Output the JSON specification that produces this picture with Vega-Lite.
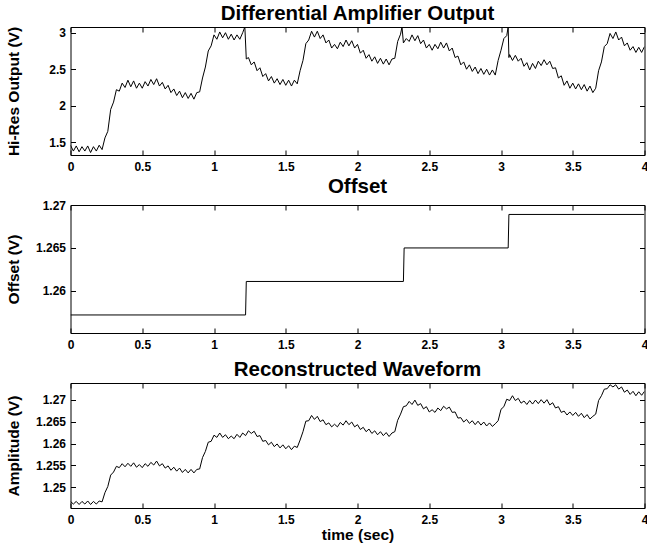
{
"$schema": "https://vega.github.io/schema/vega-lite/v6.json",
"padding": {"left": 5.5, "top": 3, "right": 0, "bottom": 0},
"spacing": 50,
"bounds": "flush",
"datasets": {
"hires": [
{"t":0,"v":1.46},{"t":0.02,"v":1.38},{"t":0.04,"v":1.45},{"t":0.06,"v":1.37},{"t":0.08,"v":1.44},{"t":0.1,"v":1.38},{"t":0.12,"v":1.45},{"t":0.14,"v":1.36},{"t":0.16,"v":1.44},{"t":0.18,"v":1.38},
{"t":0.2,"v":1.46},{"t":0.22,"v":1.40},{"t":0.24,"v":1.56},{"t":0.26,"v":1.65},{"t":0.28,"v":1.95},{"t":0.3,"v":2.05},{"t":0.32,"v":2.22},{"t":0.34,"v":2.20},{"t":0.36,"v":2.31},{"t":0.38,"v":2.25},
{"t":0.4,"v":2.35},{"t":0.42,"v":2.26},{"t":0.44,"v":2.34},{"t":0.46,"v":2.24},{"t":0.48,"v":2.31},{"t":0.5,"v":2.24},{"t":0.52,"v":2.33},{"t":0.54,"v":2.27},{"t":0.56,"v":2.36},{"t":0.58,"v":2.29},
{"t":0.6,"v":2.37},{"t":0.62,"v":2.27},{"t":0.64,"v":2.32},{"t":0.66,"v":2.23},{"t":0.68,"v":2.28},{"t":0.7,"v":2.18},{"t":0.72,"v":2.23},{"t":0.74,"v":2.14},{"t":0.76,"v":2.2},{"t":0.78,"v":2.11},
{"t":0.8,"v":2.18},{"t":0.82,"v":2.1},{"t":0.84,"v":2.17},{"t":0.86,"v":2.09},{"t":0.88,"v":2.18},{"t":0.9,"v":2.19},{"t":0.92,"v":2.38},{"t":0.94,"v":2.53},{"t":0.96,"v":2.75},{"t":0.98,"v":2.82},
{"t":1,"v":2.97},{"t":1.02,"v":2.91},{"t":1.04,"v":3.01},{"t":1.06,"v":2.93},{"t":1.08,"v":3.0},{"t":1.1,"v":2.91},{"t":1.12,"v":2.98},{"t":1.14,"v":2.9},{"t":1.16,"v":2.97},{"t":1.18,"v":2.91},
{"t":1.2,"v":3.0},{"t":1.215,"v":3.08},{"t":1.225,"v":2.64},{"t":1.24,"v":2.66},{"t":1.26,"v":2.56},{"t":1.28,"v":2.6},{"t":1.3,"v":2.48},{"t":1.32,"v":2.52},{"t":1.34,"v":2.4},{"t":1.36,"v":2.44},
{"t":1.38,"v":2.34},{"t":1.4,"v":2.4},{"t":1.42,"v":2.31},{"t":1.44,"v":2.37},{"t":1.46,"v":2.29},{"t":1.48,"v":2.36},{"t":1.5,"v":2.28},{"t":1.52,"v":2.35},{"t":1.54,"v":2.27},{"t":1.56,"v":2.35},
{"t":1.58,"v":2.3},{"t":1.6,"v":2.48},{"t":1.62,"v":2.62},{"t":1.64,"v":2.85},{"t":1.66,"v":2.9},{"t":1.68,"v":3.02},{"t":1.7,"v":2.94},{"t":1.72,"v":3.02},{"t":1.74,"v":2.92},{"t":1.76,"v":2.97},
{"t":1.78,"v":2.86},{"t":1.8,"v":2.9},{"t":1.82,"v":2.79},{"t":1.84,"v":2.84},{"t":1.86,"v":2.78},{"t":1.88,"v":2.87},{"t":1.9,"v":2.81},{"t":1.92,"v":2.9},{"t":1.94,"v":2.82},{"t":1.96,"v":2.89},
{"t":1.98,"v":2.79},{"t":2,"v":2.84},{"t":2.02,"v":2.72},{"t":2.04,"v":2.76},{"t":2.06,"v":2.65},{"t":2.08,"v":2.7},{"t":2.1,"v":2.61},{"t":2.12,"v":2.67},{"t":2.14,"v":2.58},{"t":2.16,"v":2.65},
{"t":2.18,"v":2.57},{"t":2.2,"v":2.64},{"t":2.22,"v":2.56},{"t":2.24,"v":2.64},{"t":2.26,"v":2.65},{"t":2.28,"v":2.88},{"t":2.3,"v":2.98},{"t":2.31,"v":3.08},{"t":2.32,"v":2.86},{"t":2.34,"v":2.92},
{"t":2.36,"v":2.88},{"t":2.38,"v":2.97},{"t":2.4,"v":2.89},{"t":2.42,"v":2.96},{"t":2.44,"v":2.85},{"t":2.46,"v":2.9},{"t":2.48,"v":2.79},{"t":2.5,"v":2.84},{"t":2.52,"v":2.76},{"t":2.54,"v":2.84},
{"t":2.56,"v":2.78},{"t":2.58,"v":2.87},{"t":2.6,"v":2.79},{"t":2.62,"v":2.86},{"t":2.64,"v":2.75},{"t":2.66,"v":2.79},{"t":2.68,"v":2.66},{"t":2.7,"v":2.68},{"t":2.72,"v":2.56},{"t":2.74,"v":2.6},
{"t":2.76,"v":2.5},{"t":2.78,"v":2.56},{"t":2.8,"v":2.47},{"t":2.82,"v":2.53},{"t":2.84,"v":2.44},{"t":2.86,"v":2.51},{"t":2.88,"v":2.43},{"t":2.9,"v":2.5},{"t":2.92,"v":2.42},{"t":2.94,"v":2.49},
{"t":2.96,"v":2.42},{"t":2.98,"v":2.62},{"t":3,"v":2.76},{"t":3.02,"v":2.92},{"t":3.04,"v":2.96},{"t":3.05,"v":3.08},{"t":3.055,"v":2.66},{"t":3.06,"v":2.7},{"t":3.08,"v":2.62},{"t":3.1,"v":2.69},
{"t":3.12,"v":2.61},{"t":3.14,"v":2.65},{"t":3.16,"v":2.54},{"t":3.18,"v":2.59},{"t":3.2,"v":2.49},{"t":3.22,"v":2.58},{"t":3.24,"v":2.51},{"t":3.26,"v":2.61},{"t":3.28,"v":2.55},{"t":3.3,"v":2.63},
{"t":3.32,"v":2.56},{"t":3.34,"v":2.61},{"t":3.36,"v":2.51},{"t":3.38,"v":2.52},{"t":3.4,"v":2.38},{"t":3.42,"v":2.41},{"t":3.44,"v":2.28},{"t":3.46,"v":2.34},{"t":3.48,"v":2.24},{"t":3.5,"v":2.31},
{"t":3.52,"v":2.23},{"t":3.54,"v":2.3},{"t":3.56,"v":2.22},{"t":3.58,"v":2.29},{"t":3.6,"v":2.2},{"t":3.62,"v":2.27},{"t":3.64,"v":2.18},{"t":3.66,"v":2.24},{"t":3.68,"v":2.48},{"t":3.7,"v":2.6},
{"t":3.72,"v":2.81},{"t":3.74,"v":2.85},{"t":3.76,"v":2.99},{"t":3.78,"v":2.92},{"t":3.8,"v":3.01},{"t":3.82,"v":2.9},{"t":3.84,"v":2.94},{"t":3.86,"v":2.82},{"t":3.88,"v":2.86},{"t":3.9,"v":2.76},
{"t":3.92,"v":2.81},{"t":3.94,"v":2.73},{"t":3.96,"v":2.8},{"t":3.98,"v":2.73},{"t":4,"v":2.81}
],
"offset": [
{"t":0,"v":1.2572},{"t":1.22,"v":1.2572},{"t":1.225,"v":1.2611},{"t":2.32,"v":1.2611},{"t":2.325,"v":1.265},{"t":3.05,"v":1.265},{"t":3.055,"v":1.2689},{"t":4,"v":1.2689}
],
"recon": [
{"t":0,"v":1.2468},{"t":0.02,"v":1.2462},{"t":0.04,"v":1.2468},{"t":0.06,"v":1.2461},{"t":0.08,"v":1.2468},{"t":0.1,"v":1.2462},{"t":0.12,"v":1.2469},{"t":0.14,"v":1.2461},{"t":0.16,"v":1.2468},{"t":0.18,"v":1.2462},
{"t":0.2,"v":1.2469},{"t":0.22,"v":1.2467},{"t":0.24,"v":1.2488},{"t":0.26,"v":1.2502},{"t":0.28,"v":1.2528},{"t":0.3,"v":1.2535},{"t":0.32,"v":1.2548},{"t":0.34,"v":1.2545},{"t":0.36,"v":1.2554},{"t":0.38,"v":1.2547},
{"t":0.4,"v":1.2555},{"t":0.42,"v":1.2548},{"t":0.44,"v":1.2556},{"t":0.46,"v":1.2546},{"t":0.48,"v":1.2552},{"t":0.5,"v":1.2545},{"t":0.52,"v":1.2554},{"t":0.54,"v":1.2548},{"t":0.56,"v":1.2557},{"t":0.58,"v":1.2551},
{"t":0.6,"v":1.256},{"t":0.62,"v":1.2549},{"t":0.64,"v":1.2554},{"t":0.66,"v":1.2544},{"t":0.68,"v":1.2549},{"t":0.7,"v":1.2539},{"t":0.72,"v":1.2546},{"t":0.74,"v":1.2537},{"t":0.76,"v":1.2544},{"t":0.78,"v":1.2534},
{"t":0.8,"v":1.2541},{"t":0.82,"v":1.2533},{"t":0.84,"v":1.2541},{"t":0.86,"v":1.2533},{"t":0.88,"v":1.2541},{"t":0.9,"v":1.2542},{"t":0.92,"v":1.2568},{"t":0.94,"v":1.2582},{"t":0.96,"v":1.2603},{"t":0.98,"v":1.2605},
{"t":1,"v":1.2619},{"t":1.02,"v":1.2614},{"t":1.04,"v":1.2624},{"t":1.06,"v":1.2614},{"t":1.08,"v":1.262},{"t":1.1,"v":1.2611},{"t":1.12,"v":1.2617},{"t":1.14,"v":1.2611},{"t":1.16,"v":1.2621},{"t":1.18,"v":1.2614},
{"t":1.2,"v":1.2624},{"t":1.22,"v":1.2618},{"t":1.24,"v":1.2629},{"t":1.26,"v":1.2623},{"t":1.28,"v":1.2628},{"t":1.3,"v":1.2616},{"t":1.32,"v":1.2618},{"t":1.34,"v":1.2605},{"t":1.36,"v":1.2607},{"t":1.38,"v":1.2597},
{"t":1.4,"v":1.2603},{"t":1.42,"v":1.2593},{"t":1.44,"v":1.2599},{"t":1.46,"v":1.259},{"t":1.48,"v":1.2597},{"t":1.5,"v":1.2588},{"t":1.52,"v":1.2595},{"t":1.54,"v":1.2586},{"t":1.56,"v":1.2594},{"t":1.58,"v":1.2591},
{"t":1.6,"v":1.2608},{"t":1.62,"v":1.2627},{"t":1.64,"v":1.2651},{"t":1.66,"v":1.2652},{"t":1.68,"v":1.2664},{"t":1.7,"v":1.2655},{"t":1.72,"v":1.2662},{"t":1.74,"v":1.265},{"t":1.76,"v":1.2654},{"t":1.78,"v":1.2643},
{"t":1.8,"v":1.2647},{"t":1.82,"v":1.2638},{"t":1.84,"v":1.2644},{"t":1.86,"v":1.2638},{"t":1.88,"v":1.2648},{"t":1.9,"v":1.2642},{"t":1.92,"v":1.2652},{"t":1.94,"v":1.2643},{"t":1.96,"v":1.2649},{"t":1.98,"v":1.2638},
{"t":2,"v":1.2643},{"t":2.02,"v":1.2632},{"t":2.04,"v":1.2637},{"t":2.06,"v":1.2627},{"t":2.08,"v":1.2633},{"t":2.1,"v":1.2623},{"t":2.12,"v":1.2629},{"t":2.14,"v":1.262},{"t":2.16,"v":1.2627},{"t":2.18,"v":1.2618},
{"t":2.2,"v":1.2625},{"t":2.22,"v":1.2616},{"t":2.24,"v":1.2624},{"t":2.26,"v":1.2627},{"t":2.28,"v":1.2653},{"t":2.3,"v":1.2667},{"t":2.32,"v":1.2684},{"t":2.34,"v":1.2686},{"t":2.36,"v":1.2696},{"t":2.38,"v":1.2689},
{"t":2.4,"v":1.2699},{"t":2.42,"v":1.2687},{"t":2.44,"v":1.2691},{"t":2.46,"v":1.2679},{"t":2.48,"v":1.2684},{"t":2.5,"v":1.2672},{"t":2.52,"v":1.2677},{"t":2.54,"v":1.2671},{"t":2.56,"v":1.2681},{"t":2.58,"v":1.2675},
{"t":2.6,"v":1.2685},{"t":2.62,"v":1.2679},{"t":2.64,"v":1.2683},{"t":2.66,"v":1.2671},{"t":2.68,"v":1.2672},{"t":2.7,"v":1.2658},{"t":2.72,"v":1.2659},{"t":2.74,"v":1.2649},{"t":2.76,"v":1.2655},{"t":2.78,"v":1.2646},
{"t":2.8,"v":1.2652},{"t":2.82,"v":1.2643},{"t":2.84,"v":1.2651},{"t":2.86,"v":1.2642},{"t":2.88,"v":1.2649},{"t":2.9,"v":1.264},{"t":2.92,"v":1.2647},{"t":2.94,"v":1.2639},{"t":2.96,"v":1.2645},{"t":2.98,"v":1.2652},
{"t":3,"v":1.2678},{"t":3.02,"v":1.2684},{"t":3.04,"v":1.2701},{"t":3.06,"v":1.2698},{"t":3.08,"v":1.2709},{"t":3.1,"v":1.2698},{"t":3.12,"v":1.2703},{"t":3.14,"v":1.2692},{"t":3.16,"v":1.2697},{"t":3.18,"v":1.2689},
{"t":3.2,"v":1.2698},{"t":3.22,"v":1.269},{"t":3.24,"v":1.2699},{"t":3.26,"v":1.2691},{"t":3.28,"v":1.27},{"t":3.3,"v":1.2692},{"t":3.32,"v":1.27},{"t":3.34,"v":1.2688},{"t":3.36,"v":1.2693},{"t":3.38,"v":1.2681},
{"t":3.4,"v":1.2684},{"t":3.42,"v":1.2671},{"t":3.44,"v":1.2674},{"t":3.46,"v":1.2665},{"t":3.48,"v":1.2672},{"t":3.5,"v":1.2664},{"t":3.52,"v":1.2671},{"t":3.54,"v":1.2662},{"t":3.56,"v":1.2669},{"t":3.58,"v":1.2659},
{"t":3.6,"v":1.2666},{"t":3.62,"v":1.2656},{"t":3.64,"v":1.2662},{"t":3.66,"v":1.2667},{"t":3.68,"v":1.2698},{"t":3.7,"v":1.2709},{"t":3.72,"v":1.2724},{"t":3.74,"v":1.2725},{"t":3.76,"v":1.2734},{"t":3.78,"v":1.2729},
{"t":3.8,"v":1.2734},{"t":3.82,"v":1.2724},{"t":3.84,"v":1.2729},{"t":3.86,"v":1.2717},{"t":3.88,"v":1.2722},{"t":3.9,"v":1.2712},{"t":3.92,"v":1.2719},{"t":3.94,"v":1.2709},{"t":3.96,"v":1.2718},{"t":3.98,"v":1.271},{"t":4,"v":1.2719}
]
},
"vconcat": [
{
"width": 574, "height": 128,
"title": "Differential Amplifier Output",
"data": {"name": "hires"},
"layer": [
{"mark": {"type": "line", "color": "black", "strokeWidth": 1, "clip": true},
 "encoding": {
  "x": {"field": "t", "type": "quantitative", "scale": {"domain": [0, 4], "nice": false, "zero": false},
        "axis": {"orient": "bottom", "values": [0,0.5,1,1.5,2,2.5,3,3.5,4], "format": "~g", "title": null}},
  "y": {"field": "v", "type": "quantitative", "scale": {"domain": [1.326, 3.078], "nice": false, "zero": false},
        "axis": {"orient": "left", "values": [1.5,2,2.5,3], "format": "~g", "title": "Hi-Res Output (V)"}}
 }},
{"mark": {"type": "line", "opacity": 0},
 "encoding": {
  "x": {"field": "t", "type": "quantitative", "scale": {"domain": [0, 4], "nice": false, "zero": false},
        "axis": {"orient": "top", "values": [0,0.5,1,1.5,2,2.5,3,3.5,4], "labels": false, "title": null}},
  "y": {"field": "v", "type": "quantitative", "scale": {"domain": [1.326, 3.078], "nice": false, "zero": false},
        "axis": {"orient": "right", "values": [1.5,2,2.5,3], "labels": false, "title": null}}
 }}
],
"resolve": {"axis": {"x": "independent", "y": "independent"}}
},
{
"width": 574, "height": 128,
"title": "Offset",
"data": {"name": "offset"},
"layer": [
{"mark": {"type": "line", "color": "black", "strokeWidth": 1, "clip": true},
 "encoding": {
  "x": {"field": "t", "type": "quantitative", "scale": {"domain": [0, 4], "nice": false, "zero": false},
        "axis": {"orient": "bottom", "values": [0,0.5,1,1.5,2,2.5,3,3.5,4], "format": "~g", "title": null}},
  "y": {"field": "v", "type": "quantitative", "scale": {"domain": [1.2551, 1.27], "nice": false, "zero": false},
        "axis": {"orient": "left", "values": [1.26,1.265,1.27], "format": "~g", "title": "Offset (V)"}}
 }},
{"mark": {"type": "line", "opacity": 0},
 "encoding": {
  "x": {"field": "t", "type": "quantitative", "scale": {"domain": [0, 4], "nice": false, "zero": false},
        "axis": {"orient": "top", "values": [0,0.5,1,1.5,2,2.5,3,3.5,4], "labels": false, "title": null}},
  "y": {"field": "v", "type": "quantitative", "scale": {"domain": [1.2551, 1.27], "nice": false, "zero": false},
        "axis": {"orient": "right", "values": [1.26,1.265,1.27], "labels": false, "title": null}}
 }}
],
"resolve": {"axis": {"x": "independent", "y": "independent"}}
},
{
"width": 574, "height": 125,
"title": "Reconstructed Waveform",
"data": {"name": "recon"},
"layer": [
{"mark": {"type": "line", "color": "black", "strokeWidth": 1, "clip": true},
 "encoding": {
  "x": {"field": "t", "type": "quantitative", "scale": {"domain": [0, 4], "nice": false, "zero": false},
        "axis": {"orient": "bottom", "values": [0,0.5,1,1.5,2,2.5,3,3.5,4], "format": "~g", "title": "time (sec)"}},
  "y": {"field": "v", "type": "quantitative", "scale": {"domain": [1.2453, 1.2738], "nice": false, "zero": false},
        "axis": {"orient": "left", "values": [1.25,1.255,1.26,1.265,1.27], "format": "~g", "title": "Amplitude (V)"}}
 }},
{"mark": {"type": "line", "opacity": 0},
 "encoding": {
  "x": {"field": "t", "type": "quantitative", "scale": {"domain": [0, 4], "nice": false, "zero": false},
        "axis": {"orient": "top", "values": [0,0.5,1,1.5,2,2.5,3,3.5,4], "labels": false, "title": null}},
  "y": {"field": "v", "type": "quantitative", "scale": {"domain": [1.2453, 1.2738], "nice": false, "zero": false},
        "axis": {"orient": "right", "values": [1.25,1.255,1.26,1.265,1.27], "labels": false, "title": null}}
 }}
],
"resolve": {"axis": {"x": "independent", "y": "independent"}}
}
],
"config": {
  "font": "Liberation Sans",
  "background": "white",
  "view": {"stroke": "black", "strokeWidth": 1},
  "axis": {"domain": false, "offset": -5, "tickColor": "black", "tickWidth": 1, "tickSize": 5,
           "labelColor": "black", "labelFont": "Liberation Sans", "labelFontWeight": "bold",
           "labelFontSize": 12, "labelFlush": false, "labelOverlap": false, "grid": false,
           "titleColor": "black", "titleFont": "Liberation Sans", "titleFontWeight": "bold", "titleFontSize": 15.5, "titlePadding": 2},
  "axisBottom": {"labelPadding": 6},
  "axisLeft": {"labelPadding": 5, "titleX": -54},
  "title": {"fontSize": 20.5, "fontWeight": "bold", "color": "black", "font": "Liberation Sans", "anchor": "middle", "offset": 2}
}
}
